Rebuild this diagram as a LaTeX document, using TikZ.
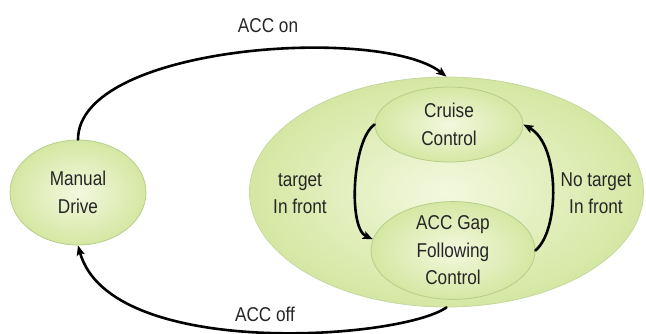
\documentclass[tikz,border=0pt]{standalone}
\usepackage{fontspec}
\setmainfont[FakeStretch=0.86]{Liberation Sans}
\usetikzlibrary{shapes.geometric,arrows.meta}
\definecolor{fillin}{HTML}{F3F8DE}
\definecolor{fillout}{HTML}{D5E7A3}
\definecolor{bord}{HTML}{B7CE8A}
\definecolor{txt}{HTML}{262626}
\tikzset{
  state/.style={ellipse, inner sep=0pt, draw=bord, line width=0.8pt,
    shade, inner color=fillin, outer color=fillout,
    align=center, font=\fontsize{20}{27.5}\selectfont, text=txt},
  lbl/.style={align=center, font=\fontsize{20}{27}\selectfont, text=txt},
  conn/.style={line width=2.6pt, black, line cap=round,
    -{Stealth[length=10pt,width=8pt,inset=2pt]}}
}
\begin{document}
\begin{tikzpicture}[x=1pt,y=-1pt]
\useasboundingbox (0,0) rectangle (646,333);
\node[state, minimum width=394pt, minimum height=230pt, draw=bord!80] (acc) at (446.5,192) {};
\node[state, minimum width=136pt, minimum height=105pt] (md) at (78,192.5) {Manual\\Drive};
\node[state, minimum width=148pt, minimum height=75pt] (cc) at (449,124.5) {Cruise\\Control};
\node[state, minimum width=164pt, minimum height=97pt] (ag) at (453,250.5) {ACC Gap\\Following\\Control};
\node[lbl] (tif) at (300,193.5) {target\\In front};
\node[lbl] (ntif) at (596,193.5) {No target\\In front};
\node[lbl] (on) at (268,26) {ACC on};
\node[lbl] (off) at (265,314) {ACC off};
\draw[conn] (md.north) .. controls (78,45) and (380,25) .. (acc.north);
\draw[conn] (acc.south) .. controls (400,340) and (110,360) .. (md.south);
\draw[conn] (cc.west) .. controls (352,140) and (348,228) .. (ag.172);
\draw[conn] (ag.east) .. controls (560,230) and (560,145) .. (cc.east);
\end{tikzpicture}
\end{document}
